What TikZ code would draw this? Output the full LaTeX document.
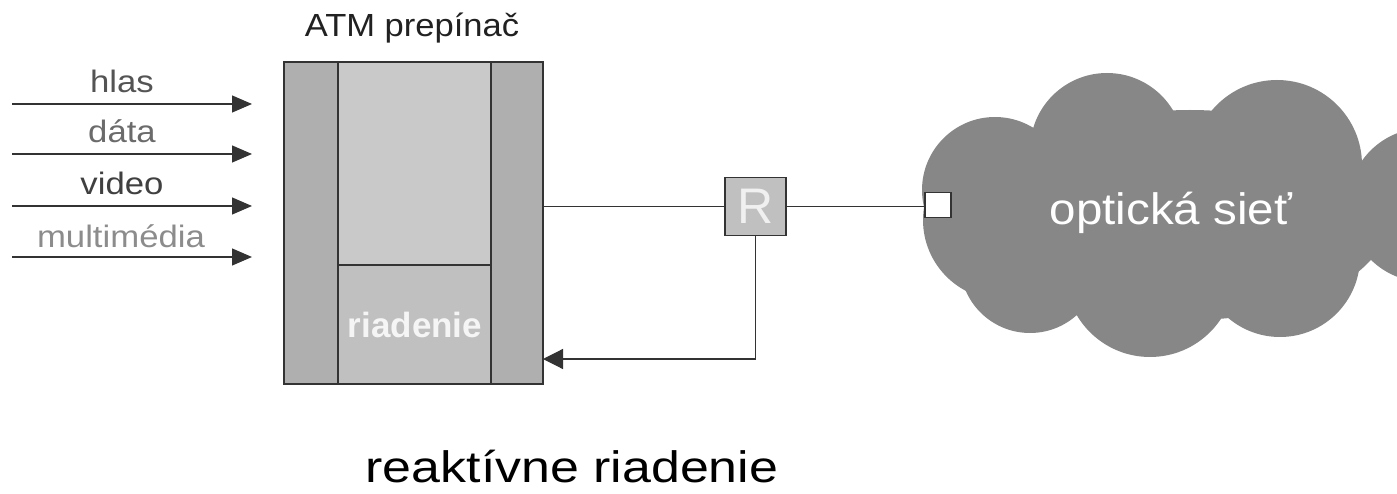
\documentclass[tikz,border=0pt]{standalone}
\usepackage{fontspec}
\setmainfont{Liberation Sans}
\usetikzlibrary{arrows.meta,calc}
\definecolor{linec}{HTML}{333333}
\definecolor{colc}{HTML}{AFAFAF}
\definecolor{topc}{HTML}{C9C9C9}
\definecolor{botc}{HTML}{C0C0C0}
\definecolor{cloudc}{HTML}{878787}
\definecolor{rboxc}{HTML}{C0C0C0}
\tikzset{
  conn/.style={draw=linec, line width=1.2pt},
  inarrow/.style={conn, -{Triangle[length=20pt,width=17pt]}},
  fbarrow/.style={conn, -{Triangle[length=20pt,width=20pt]}},
  lbl/.style={anchor=base, inner sep=0pt, font=\fontsize{31}{31}\selectfont, xscale=1.12},
  boxpart/.style={draw=linec, line width=1.3pt},
  rbox/.style={draw=linec, line width=1.3pt, fill=rboxc, minimum width=61pt, minimum height=58pt, inner sep=0pt},
  portbox/.style={draw=linec, line width=1.3pt, fill=white, minimum width=26pt, minimum height=25pt, inner sep=0pt},
  swbox/.style={draw=linec, line width=1.3pt, minimum width=259pt, minimum height=322pt, inner sep=0pt},
}
\begin{document}
\begin{tikzpicture}[x=1pt,y=-1pt]
\useasboundingbox (0,0) rectangle (1397,494);
% cloud
\begin{scope}
\clip (0,0) rectangle (1397,494);
\fill[cloudc] (1003,220) circle (80);
\fill[cloudc] (995,190) circle (73);
\fill[cloudc] (1107,150) circle (77);
\fill[cloudc] (1277,165) circle (85);
\fill[cloudc] (1425,205) circle (77);
\fill[cloudc] (1280,257) circle (80);
\fill[cloudc] (1150,272) circle (85);
\fill[cloudc] (1030,263) circle (70);
\fill[cloudc] (1190,215) ellipse (200 and 105);
\end{scope}
\node[anchor=base, text=white, inner sep=0pt, font=\fontsize{44}{44}\selectfont, xscale=1.08] (net) at (1171,225) {optická sieť};

% switch
\fill[colc] (284,62) rectangle (543,384);
\fill[topc] (338,62) rectangle (491,265);
\fill[botc] (338,265) rectangle (491,384);
\draw[boxpart] (338,62) -- (338,384);
\draw[boxpart] (491,62) -- (491,384);
\draw[boxpart] (338,265) -- (491,265);
\node[swbox] (sw) at (413.5,223) {};
\node[anchor=base, text=black!87, inner sep=0pt, font=\fontsize{32}{32}\selectfont, xscale=1.08] (atm) at (412,37) {ATM prepínač};
\node[anchor=base, text=white!96!black, inner sep=0pt, font=\bfseries\fontsize{35}{35}\selectfont] (ctl) at (415,337) {riadenie};

% inputs
\coordinate (s1) at (12,104); \coordinate (e1) at (252,104);
\coordinate (s2) at (12,154); \coordinate (e2) at (252,154);
\coordinate (s3) at (12,206); \coordinate (e3) at (252,206);
\coordinate (s4) at (12,257); \coordinate (e4) at (252,257);
\draw[inarrow] (s1) -- (e1);
\draw[inarrow] (s2) -- (e2);
\draw[inarrow] (s3) -- (e3);
\draw[inarrow] (s4) -- (e4);
\node[lbl, text=black!67] (l1) at (122,93) {hlas};
\node[lbl, text=black!58] (l2) at (122,143) {dáta};
\node[lbl, text=black!75] (l3) at (122,195) {video};
\node[lbl, text=black!45] (l4) at (121,248) {multimédia};

% R and port
\node[rbox] (r) at (755.5,206.5) {};
\node[anchor=base, text=white!94!black, inner sep=0pt, font=\fontsize{50}{50}\selectfont] (rt) at (755.5,224) {R};
\node[portbox] (p) at (938,205) {};
\coordinate (fb) at (543,359);
\draw[conn] (sw.east |- r) -- (r.west);
\draw[conn] (r.east) -- (r.east -| p.west);
\draw[fbarrow] (r.south) -- (r.south |- fb) -- (fb);

% caption
\node[anchor=base, text=black, inner sep=0pt, font=\fontsize{44}{44}\selectfont, xscale=1.18] (cap) at (572,482) {reaktívne riadenie};
\end{tikzpicture}
\end{document}
